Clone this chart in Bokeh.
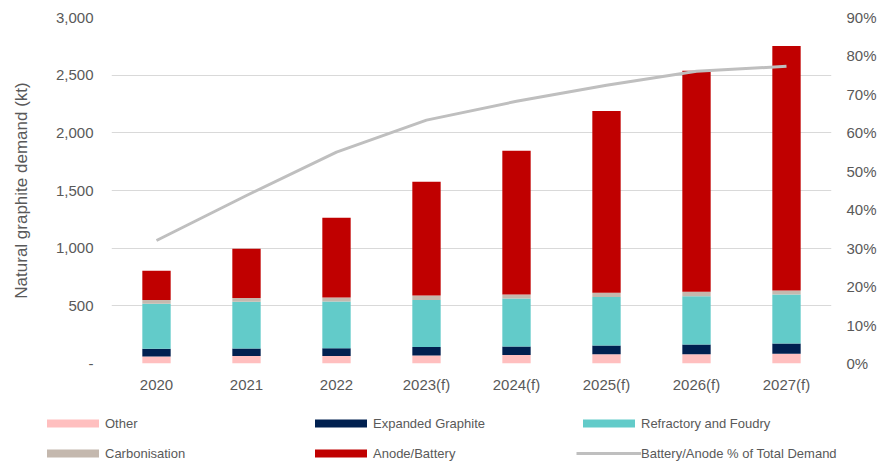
from bokeh.plotting import figure
from bokeh.models import (FactorRange, Range1d, LinearAxis, FixedTicker, CustomJSTickFormatter,
                          NumeralTickFormatter, Legend, LegendItem, ColumnDataSource)
from bokeh.embed import file_html
from bokeh.resources import INLINE

years = ["2020", "2021", "2022", "2023(f)", "2024(f)", "2025(f)", "2026(f)", "2027(f)"]
other = [61, 64, 64, 69, 73, 81, 81, 84]
expanded = [66, 66, 69, 73, 74, 75, 84, 89]
refractory = [391, 405, 405, 408, 417, 420, 419, 425]
carbonisation = [32, 32, 34, 40, 34, 37, 38, 35]
anode = [255, 428, 691, 985, 1246, 1577, 1916, 2120]
battery_share = [0.32, 0.437, 0.55, 0.633, 0.682, 0.724, 0.76, 0.773]
left_ticks = [0, 500, 1000, 1500, 2000, 2500, 3000]
right_ticks = [0.0, 0.1, 0.2, 0.3, 0.4, 0.5, 0.6, 0.7, 0.8, 0.9]

names = ["Other", "Expanded Graphite", "Refractory and Foudry", "Carbonisation", "Anode/Battery"]
keys = ["other", "expanded", "refractory", "carbonisation", "anode"]
colors = ["#ffbfbf", "#002050", "#62cbc9", "#c4b8ae", "#c00000"]
line_name = "Battery/Anode % of Total Demand"
line_color = "#bfbfbf"

src = ColumnDataSource(dict(year=years, other=other, expanded=expanded, refractory=refractory,
                            carbonisation=carbonisation, anode=anode, share=battery_share))

FONT = "Liberation Sans"
GREY = "#595959"

p = figure(width=887, height=400, x_range=FactorRange(*years), y_range=Range1d(0, 3000),
           output_backend="svg", toolbar_location=None,
           min_border_left=111, min_border_right=56, min_border_top=17, min_border_bottom=37)
p.outline_line_color = None
p.background_fill_color = "white"

bars = p.vbar_stack(keys, x="year", width=0.315, color=colors, line_width=0, source=src)
ln = p.line(x="year", y="share", y_range_name="pct", source=src, line_color=line_color, line_width=3)

p.extra_y_ranges = {"pct": Range1d(0, 0.9)}
ra = LinearAxis(y_range_name="pct")
p.add_layout(ra, "right")
ra.ticker = FixedTicker(ticks=right_ticks)
ra.formatter = NumeralTickFormatter(format="0%")

la = p.yaxis[0]
la.ticker = FixedTicker(ticks=left_ticks)
la.formatter = CustomJSTickFormatter(code="return tick == 0 ? '-' : tick.toLocaleString('en-US');")
la.axis_label = "Natural graphite demand (kt)"
la.axis_label_text_font = FONT
la.axis_label_text_font_size = "17px"
la.axis_label_text_font_style = "normal"
la.axis_label_text_color = GREY
la.axis_label_standoff = 22
la.major_label_standoff = 18

for ax in [la, ra, p.xaxis[0]]:
    ax.axis_line_color = None
    ax.major_tick_line_color = None
    ax.minor_tick_line_color = None
    ax.major_tick_out = 0
    ax.major_tick_in = 0
    ax.major_label_text_font = FONT
    ax.major_label_text_font_size = "15px"
    ax.major_label_text_color = GREY
ra.major_label_standoff = 15
p.xaxis[0].major_label_standoff = 12

p.xgrid.grid_line_color = None
p.ygrid.grid_line_color = "#d9d9d9"
p.ygrid.grid_line_width = 1

# Legend panel: a separate root below the chart. Its glyphs use the real data
# but lie outside its visible y range, so only the legend entries show.
lp = figure(width=887, height=66, x_range=FactorRange(*years), y_range=Range1d(5000, 6000),
            output_backend="svg", toolbar_location=None,
            x_axis_location=None, y_axis_location=None,
            min_border_left=0, min_border_right=0, min_border_top=0, min_border_bottom=0)
lp.grid.grid_line_color = None
lp.outline_line_color = None
leg_rs = lp.vbar_stack(keys, x="year", width=0.315, color=colors, line_width=0, source=src)
leg_ln = lp.line(x="year", y="share", line_color=line_color, line_width=3, source=src)

items = [LegendItem(label=n, renderers=[r]) for n, r in zip(names, leg_rs)]
items.append(LegendItem(label=line_name, renderers=[leg_ln]))
legend = Legend(items=items, location=(40, 5), orientation="horizontal", ncols=3,
                glyph_width=65, glyph_height=10, label_standoff=0, label_width=189,
                label_height=16, spacing=14, padding=0, margin=0,
                border_line_color=None, background_fill_alpha=0,
                label_text_font=FONT, label_text_font_size="13px", label_text_color=GREY)
lp.add_layout(legend, "center")

open("out.html", "w").write(file_html([p, lp], INLINE))
